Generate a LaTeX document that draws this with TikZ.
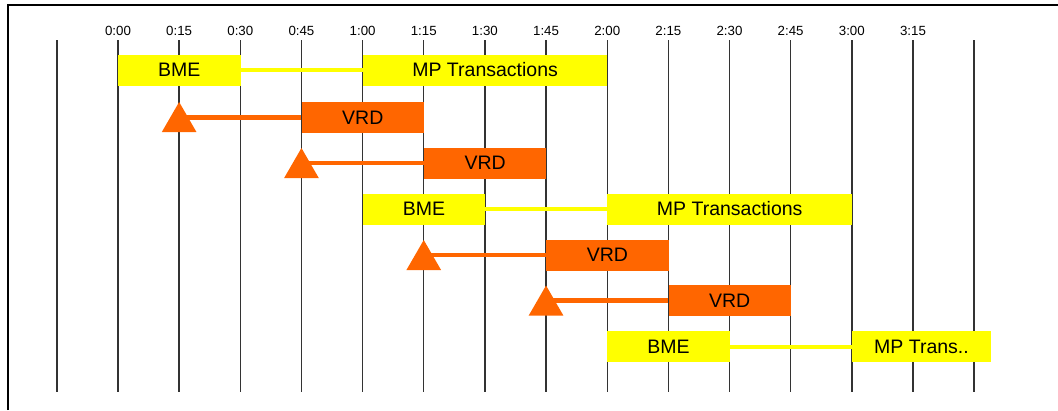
\documentclass[tikz,border=0pt]{standalone}
\usepackage{fontspec}
\setmainfont{Liberation Sans}
\usetikzlibrary{shapes.geometric}
\definecolor{ybar}{HTML}{FFFF00}
\definecolor{obar}{HTML}{FF6600}
\begin{document}
\begin{tikzpicture}[x=1pt,y=-1pt,
  ybox/.style={fill=ybar, draw=none, minimum height=31pt, inner sep=0pt, anchor=west, font=\fontsize{19.5}{22}\selectfont},
  obox/.style={fill=obar, draw=none, minimum height=31pt, inner sep=0pt, anchor=west, font=\fontsize{19.5}{22}\selectfont},
  ylink/.style={draw=ybar, line width=4pt},
  olink/.style={draw=obar, line width=4.5pt},
  tri/.style={regular polygon, regular polygon sides=3, fill=obar, draw=none, minimum size=40pt, inner sep=0pt},
  gridline/.style={draw=black!80, line width=1.4pt},
  tick/.style={font=\fontsize{13.3}{15}\selectfont, inner sep=0pt},
  frame/.style={draw=black, line width=2.5pt}]
\def\q{61.15}
\useasboundingbox (0,0) rectangle (1058,410);
% frame
\draw[frame] (8,410) -- (8,5) -- (1058,5);
% grid lines
\foreach \k in {-1,...,14}{
  \draw[gridline] ({118+\k*\q},40) -- ({118+\k*\q},392);
}
% tick labels
\foreach \k/\t in {0/0:00,1/0:15,2/0:30,3/0:45,4/1:00,5/1:15,6/1:30,7/1:45,8/2:00,9/2:15,10/2:30,11/2:45,12/3:00,13/3:15}{
  \node[tick] (tk\k) at ({118+\k*\q},31) {\t};
}
% row 1
\node[ybox, minimum width=2*\q] (b1) at (118,70) {BME};
\node[ybox, minimum width=4*\q] (m1) at ({118+4*\q},70) {MP Transactions};
\draw[ylink] (b1.east) -- (m1.west);
% row 2
\node[obox, minimum width=2*\q] (v2) at ({118+3*\q},117.5) {VRD};
\node[tri] (t2) at ({118+1*\q},122) {};
\draw[olink] (v2.west) -- (v2.west -| t2.center);
% row 3
\node[obox, minimum width=2*\q] (v3) at ({118+5*\q},163) {VRD};
\node[tri] (t3) at ({118+3*\q},168) {};
\draw[olink] (v3.west) -- (v3.west -| t3.center);
% row 4
\node[ybox, minimum width=2*\q] (b4) at ({118+4*\q},209) {BME};
\node[ybox, minimum width=4*\q] (m4) at ({118+8*\q},209) {MP Transactions};
\draw[ylink] (b4.east) -- (m4.west);
% row 5
\node[obox, minimum width=2*\q] (v5) at ({118+7*\q},255) {VRD};
\node[tri] (t5) at ({118+5*\q},260) {};
\draw[olink] (v5.west) -- (v5.west -| t5.center);
% row 6
\node[obox, minimum width=2*\q] (v6) at ({118+9*\q},300.5) {VRD};
\node[tri] (t6) at ({118+7*\q},305.5) {};
\draw[olink] (v6.west) -- (v6.west -| t6.center);
% row 7
\node[ybox, minimum width=2*\q] (b7) at ({118+8*\q},346.5) {BME};
\node[ybox, minimum width=139pt] (m7) at ({118+12*\q},346.5) {MP Trans..};
\draw[ylink] (b7.east) -- (m7.west);
\end{tikzpicture}
\end{document}
